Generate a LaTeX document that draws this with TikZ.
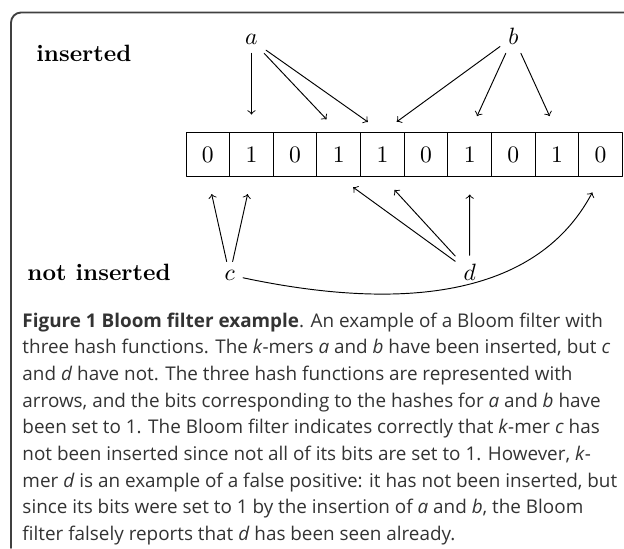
\documentclass[tikz,border=0pt]{standalone}
\usepackage{amsmath,amssymb}
\usepackage{fontspec}
\newfontfamily\capfont{Open Sans}
\usetikzlibrary{arrows}

\begin{document}
\begin{tikzpicture}[line cap=round,line join=round,>=to,x=1cm,y=1cm,
bit/.style={draw,minimum size=0.65cm,inner sep=0pt},
hash/.style={->,shorten >=7.5pt}]
\useasboundingbox (0,0) rectangle (9.293,8.161);
% Khung
\draw[line width=0.8pt,color=black!75,rounded corners=0.15cm] (0.164,0) -- (0.164,7.975) -- (9.4,7.975);
% Day bit
\foreach \v [count=\i from 0] in {0,1,0,1,1,0,1,0,1,0}
\node[bit] (bit\i) at ({3.095+0.65*\i},5.86) {$\v$};
% Nhan
\node[anchor=base west,inner sep=0pt] (ins) at (0.536,7.238) {\textbf{inserted}};
\node[anchor=base west,inner sep=0pt] (notins) at (0.402,3.991) {\textbf{not inserted}};
\node[anchor=base] (ka) at (3.745,7.491) {$a$};
\node[anchor=base] (kb) at (7.645,7.491) {$b$};
\node[anchor=base] (kc) at (3.42,3.991) {$c$};
\node[anchor=base] (kd) at (6.995,3.991) {$d$};
% Cac mui ten bam
\foreach \j in {1,3,4}
\draw[hash] (ka) -- (bit\j.north);
\foreach \j in {4,6,8}
\draw[hash] (kb) -- (bit\j.north);
\foreach \j in {0,1}
\draw[hash] (kc) -- (bit\j.south);
\foreach \j in {3,4,6}
\draw[hash] (kd) -- (bit\j.south);
\draw[hash] (kc) to[out=-12,in=-118] (bit9.south);
% Chu thich
\node[anchor=base west,inner sep=0pt,text=black!80] (cap) at (0.328,3.29) {\parbox[t]{9cm}{\capfont\fontsize{8}{11.3}\selectfont\raggedright
\textbf{Figure 1 Bloom filter example}. An example of a Bloom filter with\\
three hash functions. The \textit{k}-mers \textit{a} and \textit{b} have been inserted, but \textit{c}\\
and \textit{d} have not. The three hash functions are represented with\\
arrows, and the bits corresponding to the hashes for \textit{a} and \textit{b} have\\
been set to 1. The Bloom filter indicates correctly that \textit{k}-mer \textit{c} has\\
not been inserted since not all of its bits are set to 1. However, \textit{k}-\\
mer \textit{d} is an example of a false positive: it has not been inserted, but\\
since its bits were set to 1 by the insertion of \textit{a} and \textit{b}, the Bloom\\
filter falsely reports that \textit{d} has been seen already.}};
\end{tikzpicture}
\end{document}
